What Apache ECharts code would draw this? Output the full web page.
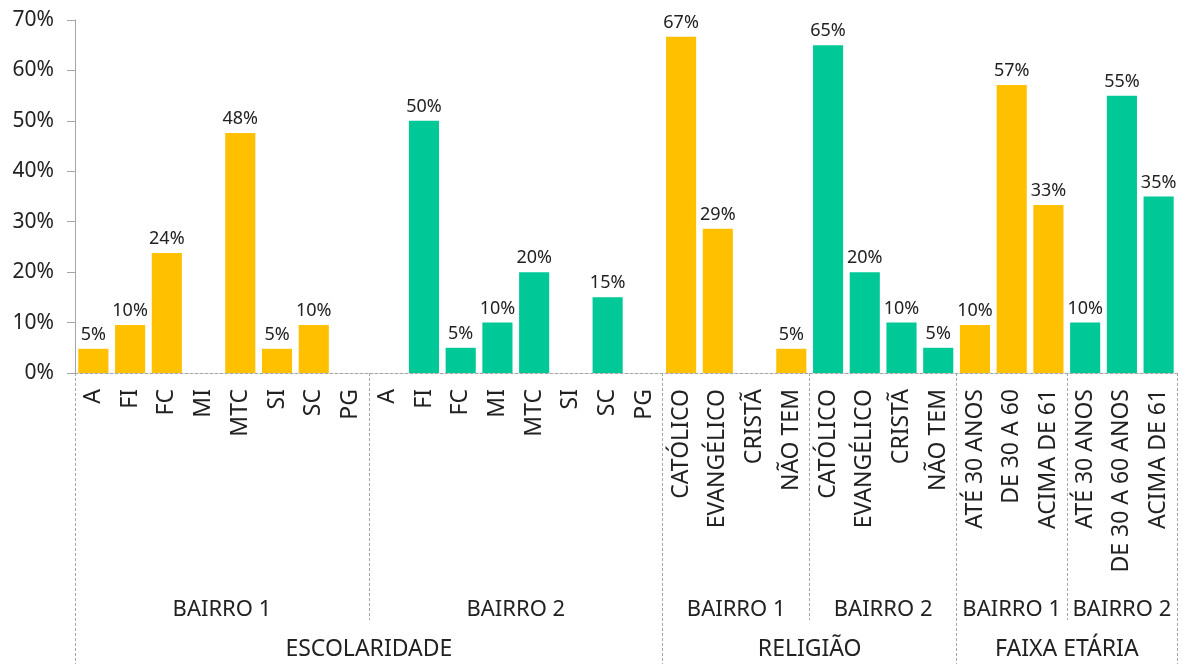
<!DOCTYPE html>
<html>
<head>
<meta charset="utf-8">
<script src="https://cdn.jsdelivr.net/npm/echarts@6/dist/echarts.min.js"></script>
<style>
  html, body { margin: 0; padding: 0; background: #fff; }
  #chart { width: 1187px; height: 664px; }
</style>
</head>
<body>
<div id="chart"></div>
<script>
// category labels
const escolaridade = ['A', 'FI', 'FC', 'MI', 'MTC', 'SI', 'SC', 'PG'];
const religiao = ['CATÓLICO', 'EVANGÉLICO', 'CRISTÃ', 'NÃO TEM'];
const faixaB1Labels = ['ATÉ 30 ANOS', 'DE 30 A 60', 'ACIMA DE 61'];
const faixaB2Labels = ['ATÉ 30 ANOS', 'DE 30 A 60 ANOS', 'ACIMA DE 61'];
const grupos = ['ESCOLARIDADE', 'RELIGIÃO', 'FAIXA ETÁRIA'];
const bairros = ['BAIRRO 1', 'BAIRRO 2'];
const yTicks = [0, 10, 20, 30, 40, 50, 60, 70];

// values (%)
const escB1 = [4.8, 9.5, 23.8, 0, 47.6, 4.8, 9.5, 0];
const escB2 = [0, 50, 5, 10, 20, 0, 15, 0];
const relB1 = [66.7, 28.6, 0, 4.8];
const relB2 = [65, 20, 10, 5];
const faixaB1 = [9.5, 57.1, 33.3];
const faixaB2 = [10, 55, 35];

const corB1 = '#FFC000';
const corB2 = '#00C896';
const cinza = '#a6a6a6';
const texto = '#222';

const catsB1 = [escolaridade, religiao, faixaB1Labels];
const catsB2 = [escolaridade, religiao, faixaB2Labels];
const valsB1 = [escB1, relB1, faixaB1];
const valsB2 = [escB2, relB2, faixaB2];

// flatten into the 30 slots, and work out the half-step positions of the
// second and third label levels (centres and separators)
const labels = [], serieB1 = [], serieB2 = [];
const nivel2 = {}, nivel3 = {};
const corte2 = new Set(), corte3 = new Set();
let pos = 0;
grupos.forEach((g, gi) => {
  const inicio = pos;
  corte3.add(2 * pos);
  [catsB1[gi], catsB2[gi]].forEach((cats, bi) => {
    const vals = bi ? valsB2[gi] : valsB1[gi];
    corte2.add(2 * pos);
    nivel2[2 * pos + cats.length] = bairros[bi];
    cats.forEach((c, k) => {
      labels.push(c);
      serieB1.push(bi ? '-' : vals[k]);
      serieB2.push(bi ? vals[k] : '-');
    });
    pos += cats.length;
  });
  nivel3[inicio + pos] = g;
});
corte3.add(2 * pos);
corte2.add(2 * pos);

const idx = labels.map((_, i) => String(i));
const meios = Array.from({ length: 2 * pos + 1 }, (_, i) => String(i));

const fonte = 'Noto Sans';
const tracejado = { color: cinza, width: 1, type: [3, 2] };

const rotulo = {
  show: true,
  position: 'top',
  distance: 5,
  color: texto,
  fontSize: 18,
  fontFamily: fonte,
  formatter: p => (p.value ? Math.round(p.value) + '%' : '')
};

const chart = echarts.init(document.getElementById('chart'));
chart.setOption({
  animation: false,
  textStyle: { fontFamily: fonte },
  grid: { left: 75, right: 10, top: 20, bottom: 291, containLabel: false },
  yAxis: {
    type: 'value',
    min: yTicks[0],
    max: yTicks[yTicks.length - 1],
    interval: 10,
    axisLine: { show: true, lineStyle: { color: cinza, width: 1 } },
    axisTick: { show: true, length: 8, lineStyle: { color: cinza } },
    splitLine: { show: false },
    axisLabel: { formatter: '{value}%', color: texto, fontSize: 21, margin: 21 }
  },
  xAxis: [
    {
      type: 'category',
      data: idx,
      position: 'bottom',
      axisLine: { show: true, lineStyle: tracejado },
      axisTick: { show: false },
      axisLabel: {
        interval: 0,
        rotate: 90,
        margin: 16,
        color: texto,
        fontSize: 23,
        formatter: (v, i) => labels[i]
      }
    },
    {
      type: 'category',
      data: meios,
      position: 'bottom',
      offset: 0,
      boundaryGap: false,
      axisLine: { show: false },
      axisTick: {
        show: true,
        length: 247,
        interval: i => corte2.has(i) && !corte3.has(i),
        lineStyle: tracejado
      },
      axisLabel: {
        interval: i => nivel2[i] !== undefined,
        margin: 226,
        color: texto,
        fontSize: 22,
        formatter: (v, i) => nivel2[i] || ''
      }
    },
    {
      type: 'category',
      data: meios,
      position: 'bottom',
      offset: 0,
      boundaryGap: false,
      axisLine: { show: false },
      axisTick: {
        show: true,
        length: 291,
        interval: i => corte3.has(i),
        lineStyle: tracejado
      },
      axisLabel: {
        interval: i => nivel3[i] !== undefined,
        margin: 265,
        color: texto,
        fontSize: 23,
        formatter: (v, i) => nivel3[i] || ''
      }
    }
  ],
  series: [
    {
      name: 'Bairro 1',
      type: 'bar',
      xAxisIndex: 0,
      data: serieB1,
      barCategoryGap: '18%',
      barGap: '-100%',
      itemStyle: { color: corB1 },
      label: rotulo
    },
    {
      name: 'Bairro 2',
      type: 'bar',
      xAxisIndex: 0,
      data: serieB2,
      barCategoryGap: '18%',
      barGap: '-100%',
      itemStyle: { color: corB2 },
      label: rotulo
    }
  ]
});
</script>
</body>
</html>
